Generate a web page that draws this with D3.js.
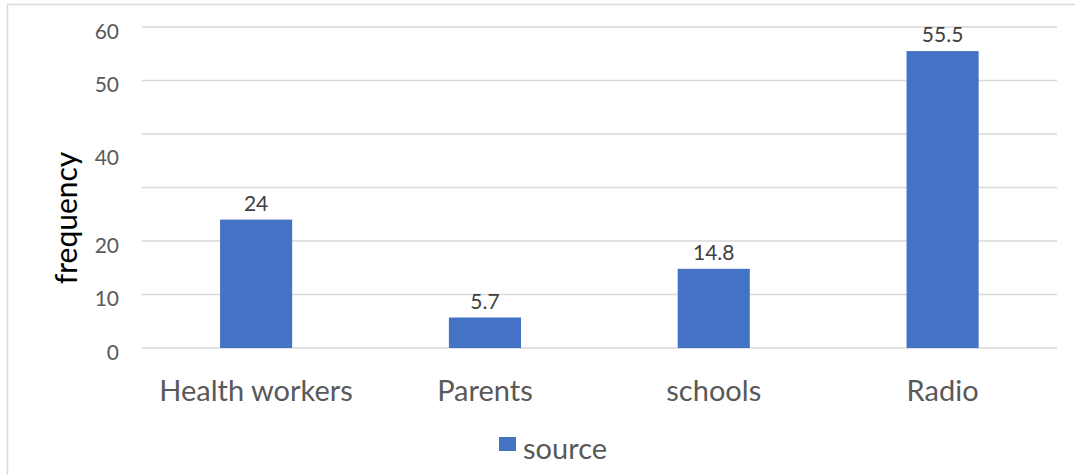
<!DOCTYPE html>
<html>
<head>
<meta charset="utf-8">
<script src="https://cdn.jsdelivr.net/npm/d3@7"></script>
<style>
    body { margin: 0; background: #fff; }
    #chart { width: 1075px; height: 475px; }
    text { font-family: Lato, "Open Sans", sans-serif; }
</style>
</head>
<body>
<div id="chart"></div>
<script>

const categories = ["Health workers", "Parents", "schools", "Radio"];
const sourceValues = [24, 5.7, 14.8, 55.5];
const valueLabels = ["24", "5.7", "14.8", "55.5"];

// gridlines every 10, but the picture's labels sit a bit off (and 30 is missing)
const gridValues = [0, 10, 20, 30, 40, 50, 60];
const tickLabels = ["0", "10", "20", "40", "50", "60"];
const tickLabelAt = [0, 10, 20, 36.5, 50, 60];

const seriesName = "source";
const axisTitle = "frequency";


const width = 1075;
const height = 475;
const svg = d3.select("#chart")
    .append("svg")
    .attr("width", width)
    .attr("height", height);

// chart frame (only top and left edges show in the picture)
svg.append("rect")
    .attr("x", 7.5)
    .attr("y", 4.5)
    .attr("width", 1100)
    .attr("height", 500)
    .attr("fill", "none")
    .attr("stroke", "#d9d9d9")
    .attr("stroke-width", 1.5);

const x = d3.scaleBand()
    .domain(categories)
    .range([141.7, 1057])
    .paddingInner(0.685)
    .paddingOuter(0.3425);

const y = d3.scaleLinear()
    .domain([0, 60])
    .range([348, 27]);

// gridlines
svg.selectAll("line.grid")
    .data(gridValues)
    .enter()
    .append("line")
    .attr("class", "grid")
    .attr("x1", 141.7)
    .attr("x2", 1057)
    .attr("y1", d => y(d))
    .attr("y2", d => y(d))
    .attr("stroke", "#d9d9d9")
    .attr("stroke-width", 1.5);

// y tick labels
svg.selectAll("text.ytick")
    .data(tickLabels)
    .enter()
    .append("text")
    .attr("class", "ytick")
    .attr("x", 119)
    .attr("y", (d, i) => y(tickLabelAt[i]) + 4.5)
    .attr("dy", "0.35em")
    .attr("text-anchor", "end")
    .attr("font-size", 21)
    .attr("fill", "#595959")
    .text(d => d);

// bars
svg.selectAll("rect.bar")
    .data(sourceValues)
    .enter()
    .append("rect")
    .attr("class", "bar")
    .attr("x", (d, i) => x(categories[i]))
    .attr("y", d => y(d))
    .attr("width", x.bandwidth())
    .attr("height", d => y(0) - y(d))
    .attr("fill", "#4472c4");

// value labels
svg.selectAll("text.value")
    .data(sourceValues)
    .enter()
    .append("text")
    .attr("class", "value")
    .attr("x", (d, i) => x(categories[i]) + x.bandwidth() / 2)
    .attr("y", d => y(d) - 9)
    .attr("text-anchor", "middle")
    .attr("font-size", 21)
    .attr("fill", "#404040")
    .text((d, i) => valueLabels[i]);

// category labels
svg.selectAll("text.cat")
    .data(categories)
    .enter()
    .append("text")
    .attr("class", "cat")
    .attr("x", d => x(d) + x.bandwidth() / 2)
    .attr("y", 401)
    .attr("text-anchor", "middle")
    .attr("font-size", 29)
    .attr("fill", "#595959")
    .text(d => d);

// axis title
svg.append("text")
    .attr("transform", "translate(77,218) rotate(-90)")
    .attr("text-anchor", "middle")
    .attr("font-size", 30)
    .attr("fill", "#000")
    .text(axisTitle);

// legend
svg.append("rect")
    .attr("x", 499)
    .attr("y", 437)
    .attr("width", 17)
    .attr("height", 14)
    .attr("fill", "#4472c4");

svg.append("text")
    .attr("x", 523)
    .attr("y", 459)
    .attr("font-size", 29)
    .attr("fill", "#595959")
    .text(seriesName);

</script>
</body>
</html>
